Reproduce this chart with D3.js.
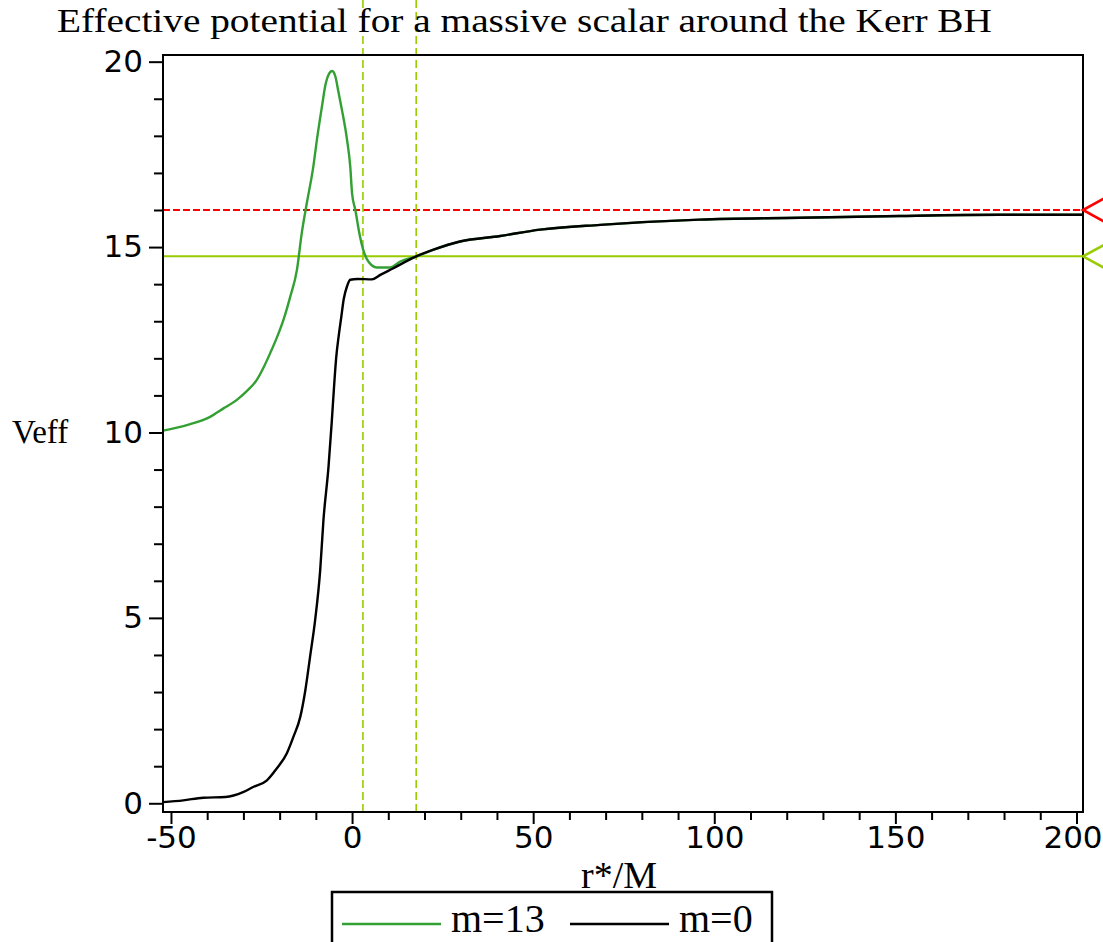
<!DOCTYPE html>
<meta charset="utf-8">
<body style="margin:0;background:#fff">
<script src="https://cdn.jsdelivr.net/npm/d3@7"></script>
<script>
// values
var rStar13 = [-52.2, -45.6, -39.2, -35.5, -31.8, -29, -26.3, -24.4, -22.6, -20.8, -18.9, -17.1, -15.2, -13.9, -12.5, -10.7, -9.7, -8.3, -7.4, -6.5, -5.5, -4.6, -3.8, -2.8, -1.4, -0.5, 0.0, 0.9, 2.2, 3.1, 4.5, 6.8, 10.5, 13.3, 17.9, 22.5, 29.8, 40.9, 51.9, 68.5, 96, 123.6, 151.2, 178.8, 201.8];
var veff13 = [10.05, 10.2, 10.42, 10.65, 10.88, 11.12, 11.42, 11.76, 12.14, 12.55, 13.05, 13.65, 14.4, 15.37, 16.18, 17.17, 17.9, 18.8, 19.35, 19.65, 19.75, 19.6, 19.2, 18.7, 17.9, 17.17, 16.45, 16.0, 15.28, 14.92, 14.61, 14.45, 14.45, 14.61, 14.75, 14.93, 15.15, 15.3, 15.47, 15.6, 15.74, 15.79, 15.84, 15.87, 15.87];

var rStar0 = [-52.2, -46.6, -41.1, -35.0, -30.1, -27.3, -23.5, -20.8, -18.0, -16.2, -14.3, -12.9, -11.6, -10.2, -8.8, -7.9, -6.5, -5.6, -5.0, -4.4, -3.7, -3.0, -2.3, -1.4, -0.5, 1.5, 5.5, 7.8, 11.4, 17.7, 22.5, 29.8, 40.9, 51.9, 68.5, 96, 123.6, 151.2, 178.8, 201.8];
var veff0 = [0.03, 0.08, 0.15, 0.17, 0.30, 0.44, 0.62, 0.94, 1.35, 1.79, 2.33, 3.05, 3.95, 4.94, 6.29, 7.64, 9.08, 10.3, 11.2, 12.0, 12.6, 13.1, 13.6, 13.94, 14.12, 14.14, 14.13, 14.25, 14.43, 14.75, 14.93, 15.15, 15.3, 15.47, 15.6, 15.74, 15.79, 15.84, 15.87, 15.87];

var levelRed = 16.0;      // dashed red level
var levelGreen = 14.75;   // solid yellow-green level
var rMarks = [3.0, 17.7]; // dashed vertical lines

var xTicks = [-50, 0, 50, 100, 150, 200];
var yTicks = [0, 5, 10, 15, 20];
var xDomain = [-52.2, 201.8];
var yDomain = [-0.235, 20.18];

var W = 1103, H = 942;
var pLeft = 163, pRight = 1083, pTop = 55, pBottom = 812;

var svg = d3.select("body").append("svg")
	.attr("width", W)
	.attr("height", H);

var x = d3.scaleLinear().domain(xDomain).range([pLeft, pRight]);
var y = d3.scaleLinear().domain(yDomain).range([pBottom, pTop]);

var tickFont = "'DejaVu Sans', Verdana, sans-serif";
var serif = "'Liberation Serif', 'Times New Roman', serif";

//minor ticks
var xMinor = d3.range(-50, 201, 10).filter(function(d){ return d % 50 != 0; });
var yMinor = d3.range(0, 21, 1).filter(function(d){ return d % 5 != 0; });

svg.append("g")
	.attr("transform", "translate(0," + pBottom + ")")
	.call(d3.axisBottom(x).tickValues(xMinor).tickSize(8).tickFormat(""))
	.call(function(g){ g.select(".domain").remove(); });
svg.append("g")
	.attr("transform", "translate(" + pLeft + ",0)")
	.call(d3.axisLeft(y).tickValues(yMinor).tickSize(9).tickFormat(""))
	.call(function(g){ g.select(".domain").remove(); });

//major ticks
var gx = svg.append("g")
	.attr("transform", "translate(0," + pBottom + ")")
	.call(d3.axisBottom(x).tickValues(xTicks).tickSize(12).tickPadding(2).tickFormat(d3.format("d")));
gx.select(".domain").remove();
gx.selectAll("text").attr("font-size", 31).attr("font-family", tickFont).attr("fill", "#000")
	.attr("dx", function(d){ return d == 200 ? -4 : 0; })   //keep last label inside the window
	.text(function(d){ return d < 0 ? "-" + Math.abs(d) : d; });

var gy = svg.append("g")
	.attr("transform", "translate(" + pLeft + ",0)")
	.call(d3.axisLeft(y).tickValues(yTicks).tickSize(14).tickPadding(6));
gy.select(".domain").remove();
gy.selectAll("text").attr("font-size", 31).attr("font-family", tickFont).attr("fill", "#000");

svg.selectAll(".tick line").attr("stroke", "#000").attr("stroke-width", 2);

//reference lines
svg.append("line")
	.attr("x1", x(xDomain[0])).attr("x2", x(xDomain[1]))
	.attr("y1", y(levelGreen)).attr("y2", y(levelGreen))
	.attr("stroke", "#99cc00").attr("stroke-width", 2);
svg.append("line")
	.attr("x1", x(xDomain[0])).attr("x2", x(xDomain[1]))
	.attr("y1", y(levelRed)).attr("y2", y(levelRed))
	.attr("stroke", "#ff0000").attr("stroke-width", 2.2)
	.attr("stroke-dasharray", "7,3");

svg.selectAll(".vmark")
	.data(rMarks)
	.enter().append("line")
	.attr("class", "vmark")
	.attr("x1", function(d){ return x(d); })
	.attr("x2", function(d){ return x(d); })
	.attr("y1", y(yDomain[0]))
	.attr("y2", 0)
	.attr("stroke", "#99cc00").attr("stroke-width", 1.6)
	.attr("stroke-dasharray", "8,4");

//curves
var line = d3.line()
	.x(function(d){ return x(d[0]); })
	.y(function(d){ return y(d[1]); })
	.curve(d3.curveMonotoneX);

svg.append("path")
	.datum(d3.zip(rStar13, veff13))
	.attr("d", line)
	.attr("fill", "none")
	.attr("stroke", "#33a033")
	.attr("stroke-width", 2.4);

svg.append("path")
	.datum(d3.zip(rStar0, veff0))
	.attr("d", line)
	.attr("fill", "none")
	.attr("stroke", "#000")
	.attr("stroke-width", 2.4);

//frame
svg.append("rect")
	.attr("x", pLeft).attr("y", pTop)
	.attr("width", pRight - pLeft).attr("height", pBottom - pTop)
	.attr("fill", "none").attr("stroke", "#000").attr("stroke-width", 2);

//arrow heads at the right edge
var arrows = [{v: levelRed, c: "#ff0000"}, {v: levelGreen, c: "#99cc00"}];
svg.selectAll(".arrow")
	.data(arrows)
	.enter().append("path")
	.attr("class", "arrow")
	.attr("d", function(d){
		var yy = y(d.v);
		return "M" + (pRight + 22) + "," + (yy - 12) + "L" + pRight + "," + yy + "L" + (pRight + 22) + "," + (yy + 12);
	})
	.attr("fill", "none")
	.attr("stroke", function(d){ return d.c; })
	.attr("stroke-width", 2.6);

//texts
svg.append("text")
	.attr("x", 57).attr("y", 32)
	.attr("font-family", serif).attr("font-size", 34)
	.attr("textLength", 935).attr("lengthAdjust", "spacingAndGlyphs")
	.text("Effective potential for a massive scalar around the Kerr BH");

svg.append("text")
	.attr("x", 12).attr("y", 443)
	.attr("font-family", serif).attr("font-size", 33)
	.text("Veff");

svg.append("text")
	.attr("x", (pLeft + pRight) / 2 - 4).attr("y", 888)
	.attr("text-anchor", "middle")
	.attr("font-family", serif).attr("font-size", 38)
	.text("r*/M");

//legend
var legend = svg.append("g");
legend.append("rect")
	.attr("x", 332).attr("y", 892)
	.attr("width", 440).attr("height", 70)
	.attr("fill", "#fff").attr("stroke", "#000").attr("stroke-width", 2.5);
var items = [{name: "m=13", c: "#33a033", x0: 342}, {name: "m=0", c: "#000", x0: 570}];
items.forEach(function(it){
	legend.append("line")
		.attr("x1", it.x0).attr("x2", it.x0 + 99)
		.attr("y1", 924).attr("y2", 924)
		.attr("stroke", it.c).attr("stroke-width", 2.4);
	legend.append("text")
		.attr("x", it.x0 + 109).attr("y", 932)
		.attr("font-family", serif).attr("font-size", 40)
		.text(it.name);
});
</script>
</body>
